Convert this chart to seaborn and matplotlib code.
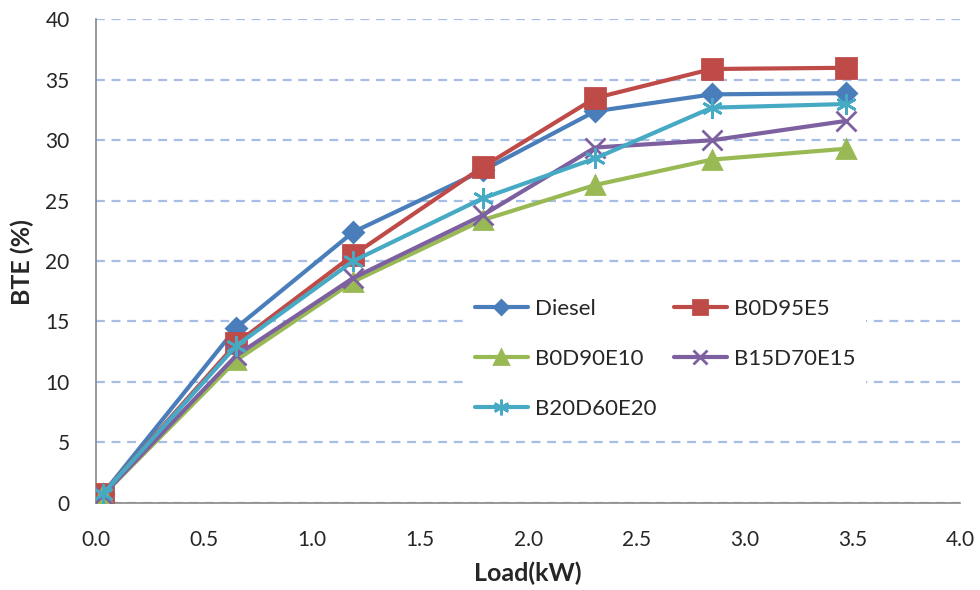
import matplotlib
matplotlib.use("Agg")
import matplotlib.pyplot as plt
import seaborn as sns
import pandas as pd

load_kw = [0.03, 0.65, 1.19, 1.79, 2.31, 2.85, 3.47]
diesel = [0.7, 14.5, 22.4, 27.5, 32.4, 33.8, 33.9]
b0d95e5 = [0.7, 13.2, 20.5, 27.8, 33.5, 35.9, 36.0]
b0d90e10 = [0.6, 11.8, 18.3, 23.4, 26.3, 28.4, 29.3]
b15d70e15 = [0.6, 12.2, 18.6, 23.8, 29.4, 30.0, 31.6]
b20d60e20 = [0.7, 13.0, 20.0, 25.2, 28.5, 32.7, 33.0]

series_names = ["Diesel", "B0D95E5", "B0D90E10", "B15D70E15", "B20D60E20"]
series_vals = [diesel, b0d95e5, b0d90e10, b15d70e15, b20d60e20]
x_ticks = [0.0, 0.5, 1.0, 1.5, 2.0, 2.5, 3.0, 3.5, 4.0]
y_ticks = [0, 5, 10, 15, 20, 25, 30, 35, 40]

rows = []
for name, vals in zip(series_names, series_vals):
    for x, y in zip(load_kw, vals):
        rows.append({"Load": x, "BTE": y, "Fuel": name})
df = pd.DataFrame(rows)

sns.set_style("white")
plt.rcParams["font.family"] = ["Lato", "DejaVu Sans"]

palette = {"Diesel": "#4a7ebb", "B0D95E5": "#be4b48", "B0D90E10": "#98b954",
           "B15D70E15": "#7d60a0", "B20D60E20": "#46aac5"}
markers = {"Diesel": "D", "B0D95E5": "s", "B0D90E10": "^",
           "B15D70E15": "x", "B20D60E20": (6, 2, 0)}
msizes = {"Diesel": 10, "B0D95E5": 14, "B0D90E10": 13, "B15D70E15": 14, "B20D60E20": 15}

fig = plt.figure(figsize=(9.8, 5.9), dpi=100)
ax = fig.add_axes([0.098, 0.148, 0.882, 0.819])

for name in series_names:
    sub = df[df["Fuel"] == name]
    sns.lineplot(data=sub, x="Load", y="BTE", ax=ax, color=palette[name],
                 marker=markers[name], markersize=msizes[name], linewidth=3,
                 markeredgewidth=2, markeredgecolor=palette[name], label=name,
                 legend=False, zorder=3)
lines = ax.get_lines()
hmap = {name: ln for name, ln in zip(series_names, lines)}

ax.set_xlim(0, 4.0)
ax.set_ylim(0, 40)
ax.set_xticks(x_ticks)
ax.set_xticklabels([f"{t:.1f}" for t in x_ticks])
ax.set_yticks(y_ticks)
ax.set_yticklabels([str(t) for t in y_ticks])
ax.tick_params(axis="both", labelsize=15, length=0)
ax.tick_params(axis="x", pad=20)
ax.tick_params(axis="y", pad=19)
ax.yaxis.grid(True, linestyle=(0, (4, 3)), color="#a6bde6", linewidth=1.6)
ax.xaxis.grid(False)
for s in ["top", "right"]:
    ax.spines[s].set_visible(False)
for s in ["left", "bottom"]:
    ax.spines[s].set_color("#888888")
    ax.spines[s].set_linewidth(1.2)
ax.set_axisbelow(True)

ax.set_xlabel("Load(kW)", fontsize=18, fontweight="bold")
ax.set_ylabel("BTE (%)", fontsize=18, fontweight="bold")
ax.xaxis.set_label_coords(0.5, -0.122)
ax.yaxis.set_label_coords(-0.072, 0.498)

order = ["Diesel", "B0D90E10", "B20D60E20", "B0D95E5", "B15D70E15"]
leg = ax.legend([hmap[n] for n in order], order, ncol=2, loc="upper left",
                bbox_to_anchor=(0.425, 0.445), borderaxespad=0, frameon=True,
                fontsize=16, handlelength=2.4, handletextpad=0.3,
                columnspacing=0.8, labelspacing=1.35, markerscale=0.75,
                borderpad=0.5)
leg.get_frame().set_facecolor("white")
leg.get_frame().set_edgecolor("none")
leg.get_frame().set_alpha(1)
leg.set_zorder(5)

fig.savefig("out.png", dpi=100)
